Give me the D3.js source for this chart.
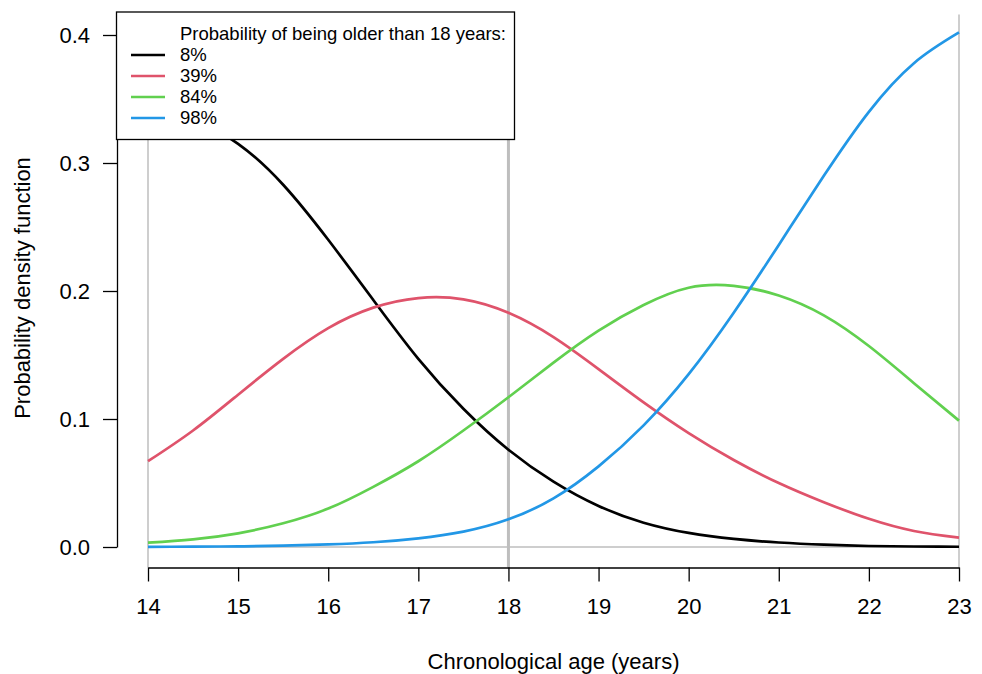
<!DOCTYPE html>
<html>
<head>
<meta charset="utf-8">
<script src="https://cdn.jsdelivr.net/npm/d3@7"></script>
<style>
  body { margin: 0; background: #fff; }
  svg text { font-family: "Liberation Sans", Arial, Helvetica, sans-serif; fill: #000; }
</style>
</head>
<body>
<div id="chart"></div>
<script>
// ages sampled every half year
var ages = [14, 14.5, 15, 15.5, 16, 16.5, 17, 17.5, 18, 18.5, 19, 19.5, 20, 20.5, 21, 21.5, 22, 22.5, 23];

// density values
var p08 = [0.345, 0.334, 0.315, 0.283, 0.240, 0.193, 0.147, 0.108, 0.076, 0.051, 0.032, 0.019, 0.011, 0.0063, 0.0035, 0.0018, 0.0008, 0.0004, 0.0002];
var p39 = [0.067, 0.091, 0.119, 0.147, 0.171, 0.187, 0.1945, 0.1935, 0.183, 0.164, 0.139, 0.113, 0.089, 0.068, 0.050, 0.035, 0.022, 0.0125, 0.0073];
var p84 = [0.0034, 0.006, 0.0107, 0.0185, 0.030, 0.047, 0.067, 0.091, 0.117, 0.144, 0.169, 0.189, 0.2025, 0.204, 0.1965, 0.181, 0.157, 0.128, 0.0987];
var p98 = [0.0001, 0.0003, 0.0005, 0.001, 0.002, 0.0037, 0.0068, 0.012, 0.0216, 0.038, 0.063, 0.095, 0.135, 0.183, 0.236, 0.290, 0.340, 0.378, 0.402];

var seriesLabels = ["8%", "39%", "84%", "98%"];
var seriesColors = ["#000000", "#DF536B", "#61D04F", "#2297E6"];
var xTicks = [14, 15, 16, 17, 18, 19, 20, 21, 22, 23];
var yTicks = [0, 0.1, 0.2, 0.3, 0.4];
var refLines = [14, 18, 23];

var draw = function() {
  var width = 982, height = 674;
  var svg = d3.select("#chart").append("svg")
      .attr("width", width)
      .attr("height", height);

  var x = d3.scaleLinear().domain([14, 23]).range([148, 959]);
  var y = d3.scaleLinear().domain([0, 0.4]).range([547, 35]);
  // plot region (R adds 4% on y)
  var yTop = y(0.416), yBot = y(-0.016);

  // grey reference lines
  svg.selectAll(".vline")
    .data(refLines)
    .enter().append("line")
    .attr("x1", function(d) { return x(d); })
    .attr("x2", function(d) { return x(d); })
    .attr("y1", yTop)
    .attr("y2", yBot)
    .style("stroke", "#bebebe")
    .style("stroke-width", function(d) { return d == 18 ? 3 : 1.5; });

  svg.append("line")
    .attr("x1", x(14)).attr("x2", x(23))
    .attr("y1", y(0)).attr("y2", y(0))
    .style("stroke", "#bebebe")
    .style("stroke-width", 1.5);

  var series = [p08, p39, p84, p98];
  var line = d3.line()
      .x(function(d, i) { return x(ages[i]); })
      .y(function(d) { return y(d); })
      .curve(d3.curveNatural);

  svg.selectAll(".curve")
    .data(series)
    .enter().append("path")
    .attr("class", "curve")
    .attr("d", line)
    .style("fill", "none")
    .style("stroke", function(d, i) { return seriesColors[i]; })
    .style("stroke-width", 2.7);

  // axes
  var xAxis = d3.axisBottom(x)
      .tickValues(xTicks)
      .tickSize(14)
      .tickSizeOuter(0)
      .tickPadding(17)
      .tickFormat(d3.format("d"));
  var gx = svg.append("g")
      .attr("transform", "translate(0," + yBot + ")")
      .call(xAxis);

  var yAxis = d3.axisLeft(y)
      .tickValues(yTicks)
      .tickSize(14)
      .tickSizeOuter(0)
      .tickPadding(13)
      .tickFormat(d3.format(".1f"));
  var gy = svg.append("g")
      .attr("transform", "translate(117,0)")
      .call(yAxis);

  [gx, gy].forEach(function(g) {
    g.selectAll("path, line").style("stroke", "#000").style("stroke-width", 1.3);
    g.selectAll("text").style("font-size", "22px")
      .style("font-family", "'Liberation Sans', Arial, sans-serif");
  });

  svg.append("text")
    .attr("x", x(18.5))
    .attr("y", 669)
    .attr("text-anchor", "middle")
    .style("font-size", "22px")
    .text("Chronological age (years)");

  svg.append("text")
    .attr("transform", "translate(22,288) rotate(-90)")
    .attr("dy", "0.35em")
    .attr("text-anchor", "middle")
    .style("font-size", "22px")
    .text("Probability density function");

  // legend
  var legend = svg.append("g");
  legend.append("rect")
    .attr("x", 116.5).attr("y", 12)
    .attr("width", 398).attr("height", 127.5)
    .style("fill", "#fff")
    .style("stroke", "#000")
    .style("stroke-width", 1.3);

  legend.append("text")
    .attr("x", 180).attr("y", 33.5)
    .attr("dy", "0.35em")
    .style("font-size", "18.5px")
    .text("Probability of being older than 18 years:");

  var item = legend.selectAll(".item")
    .data(seriesLabels)
    .enter().append("g")
    .attr("transform", function(d, i) { return "translate(0," + (55 + i * 21) + ")"; });

  item.append("line")
    .attr("x1", 131).attr("x2", 165)
    .style("stroke", function(d, i) { return seriesColors[i]; })
    .style("stroke-width", 2.7);

  item.append("text")
    .attr("x", 180)
    .attr("dy", "0.35em")
    .style("font-size", "18.5px")
    .text(function(d) { return d; });
};
draw();
</script>
</body>
</html>
